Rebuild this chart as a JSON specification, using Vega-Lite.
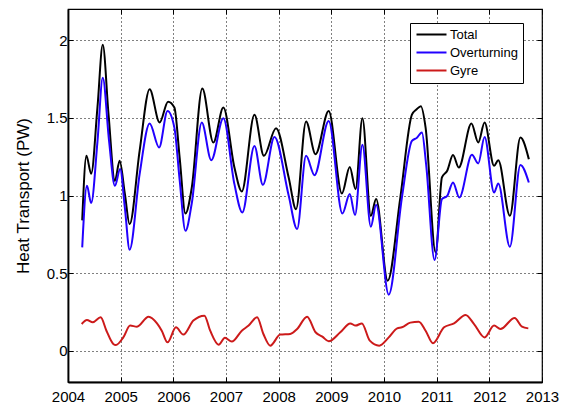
{
  "$schema": "https://vega.github.io/schema/vega-lite/v6.json",
  "width": 474,
  "height": 373,
  "autosize": "none",
  "padding": {"left": 68, "top": 9, "right": 20, "bottom": 25},
  "background": "white",
  "config": {
    "view": {"stroke": "black", "strokeWidth": 1.2},
    "font": "Liberation Sans",
    "axis": {
      "labelFont": "Liberation Sans",
      "titleFont": "Liberation Sans",
      "labelColor": "black",
      "titleColor": "black",
      "labelFontSize": 15,
      "titleFontSize": 17,
      "titleFontWeight": "normal",
      "labelFlush": false,
      "gridColor": "black",
      "gridDash": [1, 3],
      "gridWidth": 1,
      "gridOpacity": 1,
      "domainColor": "black",
      "domainWidth": 1.8,
      "tickColor": "black",
      "tickSize": -5,
      "tickWidth": 1
    }
  },
  "datasets": {
    "series": [
      {"year": 2004.27, "value": 0.84, "series": "Total"},
      {"year": 2004.35, "value": 1.255, "series": "Total"},
      {"year": 2004.44, "value": 1.14, "series": "Total"},
      {"year": 2004.56, "value": 1.57, "series": "Total"},
      {"year": 2004.66, "value": 1.97, "series": "Total"},
      {"year": 2004.77, "value": 1.52, "series": "Total"},
      {"year": 2004.89, "value": 1.094, "series": "Total"},
      {"year": 2004.98, "value": 1.223, "series": "Total"},
      {"year": 2005.08, "value": 1.01, "series": "Total"},
      {"year": 2005.17, "value": 0.816, "series": "Total"},
      {"year": 2005.36, "value": 1.287, "series": "Total"},
      {"year": 2005.55, "value": 1.684, "series": "Total"},
      {"year": 2005.74, "value": 1.47, "series": "Total"},
      {"year": 2005.9, "value": 1.604, "series": "Total"},
      {"year": 2006.02, "value": 1.566, "series": "Total"},
      {"year": 2006.12, "value": 1.244, "series": "Total"},
      {"year": 2006.23, "value": 0.884, "series": "Total"},
      {"year": 2006.35, "value": 1.05, "series": "Total"},
      {"year": 2006.55, "value": 1.688, "series": "Total"},
      {"year": 2006.76, "value": 1.341, "series": "Total"},
      {"year": 2006.95, "value": 1.566, "series": "Total"},
      {"year": 2007.16, "value": 1.18, "series": "Total"},
      {"year": 2007.3, "value": 1.026, "series": "Total"},
      {"year": 2007.54, "value": 1.519, "series": "Total"},
      {"year": 2007.72, "value": 1.255, "series": "Total"},
      {"year": 2007.95, "value": 1.433, "series": "Total"},
      {"year": 2008.19, "value": 1.116, "series": "Total"},
      {"year": 2008.33, "value": 0.912, "series": "Total"},
      {"year": 2008.52, "value": 1.476, "series": "Total"},
      {"year": 2008.7, "value": 1.266, "series": "Total"},
      {"year": 2008.95, "value": 1.544, "series": "Total"},
      {"year": 2009.2, "value": 1.013, "series": "Total"},
      {"year": 2009.35, "value": 1.184, "series": "Total"},
      {"year": 2009.46, "value": 1.041, "series": "Total"},
      {"year": 2009.59, "value": 1.497, "series": "Total"},
      {"year": 2009.75, "value": 0.869, "series": "Total"},
      {"year": 2009.85, "value": 0.977, "series": "Total"},
      {"year": 2010.07, "value": 0.452, "series": "Total"},
      {"year": 2010.31, "value": 0.987, "series": "Total"},
      {"year": 2010.53, "value": 1.52, "series": "Total"},
      {"year": 2010.62, "value": 1.555, "series": "Total"},
      {"year": 2010.7, "value": 1.575, "series": "Total"},
      {"year": 2010.79, "value": 1.437, "series": "Total"},
      {"year": 2010.98, "value": 0.634, "series": "Total"},
      {"year": 2011.1, "value": 1.116, "series": "Total"},
      {"year": 2011.2, "value": 1.159, "series": "Total"},
      {"year": 2011.31, "value": 1.26, "series": "Total"},
      {"year": 2011.42, "value": 1.18, "series": "Total"},
      {"year": 2011.66, "value": 1.463, "series": "Total"},
      {"year": 2011.79, "value": 1.341, "series": "Total"},
      {"year": 2011.91, "value": 1.469, "series": "Total"},
      {"year": 2012.09, "value": 1.191, "series": "Total"},
      {"year": 2012.17, "value": 1.227, "series": "Total"},
      {"year": 2012.39, "value": 0.869, "series": "Total"},
      {"year": 2012.59, "value": 1.373, "series": "Total"},
      {"year": 2012.75, "value": 1.234, "series": "Total"},

      {"year": 2004.27, "value": 0.666, "series": "Overturning"},
      {"year": 2004.36, "value": 1.062, "series": "Overturning"},
      {"year": 2004.44, "value": 0.951, "series": "Overturning"},
      {"year": 2004.56, "value": 1.35, "series": "Overturning"},
      {"year": 2004.66, "value": 1.758, "series": "Overturning"},
      {"year": 2004.78, "value": 1.35, "series": "Overturning"},
      {"year": 2004.89, "value": 1.062, "series": "Overturning"},
      {"year": 2004.99, "value": 1.17, "series": "Overturning"},
      {"year": 2005.08, "value": 0.92, "series": "Overturning"},
      {"year": 2005.17, "value": 0.651, "series": "Overturning"},
      {"year": 2005.36, "value": 1.137, "series": "Overturning"},
      {"year": 2005.55, "value": 1.463, "series": "Overturning"},
      {"year": 2005.73, "value": 1.309, "series": "Overturning"},
      {"year": 2005.89, "value": 1.544, "series": "Overturning"},
      {"year": 2006.02, "value": 1.437, "series": "Overturning"},
      {"year": 2006.12, "value": 1.1, "series": "Overturning"},
      {"year": 2006.23, "value": 0.773, "series": "Overturning"},
      {"year": 2006.35, "value": 0.95, "series": "Overturning"},
      {"year": 2006.54, "value": 1.469, "series": "Overturning"},
      {"year": 2006.72, "value": 1.227, "series": "Overturning"},
      {"year": 2006.95, "value": 1.497, "series": "Overturning"},
      {"year": 2007.16, "value": 1.073, "series": "Overturning"},
      {"year": 2007.31, "value": 0.891, "series": "Overturning"},
      {"year": 2007.54, "value": 1.319, "series": "Overturning"},
      {"year": 2007.7, "value": 1.069, "series": "Overturning"},
      {"year": 2007.92, "value": 1.377, "series": "Overturning"},
      {"year": 2008.19, "value": 1.0, "series": "Overturning"},
      {"year": 2008.35, "value": 0.784, "series": "Overturning"},
      {"year": 2008.52, "value": 1.255, "series": "Overturning"},
      {"year": 2008.68, "value": 1.131, "series": "Overturning"},
      {"year": 2008.95, "value": 1.48, "series": "Overturning"},
      {"year": 2009.21, "value": 0.884, "series": "Overturning"},
      {"year": 2009.35, "value": 1.009, "series": "Overturning"},
      {"year": 2009.45, "value": 0.874, "series": "Overturning"},
      {"year": 2009.59, "value": 1.326, "series": "Overturning"},
      {"year": 2009.75, "value": 0.799, "series": "Overturning"},
      {"year": 2009.85, "value": 0.94, "series": "Overturning"},
      {"year": 2010.09, "value": 0.362, "series": "Overturning"},
      {"year": 2010.34, "value": 0.987, "series": "Overturning"},
      {"year": 2010.53, "value": 1.351, "series": "Overturning"},
      {"year": 2010.62, "value": 1.37, "series": "Overturning"},
      {"year": 2010.72, "value": 1.405, "series": "Overturning"},
      {"year": 2010.8, "value": 1.2, "series": "Overturning"},
      {"year": 2010.96, "value": 0.585, "series": "Overturning"},
      {"year": 2011.1, "value": 0.977, "series": "Overturning"},
      {"year": 2011.2, "value": 0.998, "series": "Overturning"},
      {"year": 2011.31, "value": 1.084, "series": "Overturning"},
      {"year": 2011.43, "value": 0.987, "series": "Overturning"},
      {"year": 2011.67, "value": 1.262, "series": "Overturning"},
      {"year": 2011.79, "value": 1.206, "series": "Overturning"},
      {"year": 2011.91, "value": 1.377, "series": "Overturning"},
      {"year": 2012.09, "value": 1.019, "series": "Overturning"},
      {"year": 2012.17, "value": 1.077, "series": "Overturning"},
      {"year": 2012.39, "value": 0.67, "series": "Overturning"},
      {"year": 2012.59, "value": 1.197, "series": "Overturning"},
      {"year": 2012.75, "value": 1.084, "series": "Overturning"},

      {"year": 2004.26, "value": 0.173, "series": "Gyre"},
      {"year": 2004.36, "value": 0.199, "series": "Gyre"},
      {"year": 2004.47, "value": 0.184, "series": "Gyre"},
      {"year": 2004.62, "value": 0.216, "series": "Gyre"},
      {"year": 2004.73, "value": 0.13, "series": "Gyre"},
      {"year": 2004.86, "value": 0.045, "series": "Gyre"},
      {"year": 2004.91, "value": 0.038, "series": "Gyre"},
      {"year": 2005.05, "value": 0.087, "series": "Gyre"},
      {"year": 2005.18, "value": 0.163, "series": "Gyre"},
      {"year": 2005.31, "value": 0.156, "series": "Gyre"},
      {"year": 2005.53, "value": 0.22, "series": "Gyre"},
      {"year": 2005.69, "value": 0.177, "series": "Gyre"},
      {"year": 2005.78, "value": 0.13, "series": "Gyre"},
      {"year": 2005.89, "value": 0.055, "series": "Gyre"},
      {"year": 2006.05, "value": 0.152, "series": "Gyre"},
      {"year": 2006.19, "value": 0.105, "series": "Gyre"},
      {"year": 2006.38, "value": 0.195, "series": "Gyre"},
      {"year": 2006.59, "value": 0.227, "series": "Gyre"},
      {"year": 2006.7, "value": 0.13, "series": "Gyre"},
      {"year": 2006.86, "value": 0.04, "series": "Gyre"},
      {"year": 2006.98, "value": 0.084, "series": "Gyre"},
      {"year": 2007.11, "value": 0.06, "series": "Gyre"},
      {"year": 2007.3, "value": 0.13, "series": "Gyre"},
      {"year": 2007.43, "value": 0.163, "series": "Gyre"},
      {"year": 2007.59, "value": 0.216, "series": "Gyre"},
      {"year": 2007.71, "value": 0.109, "series": "Gyre"},
      {"year": 2007.84, "value": 0.034, "series": "Gyre"},
      {"year": 2008.03, "value": 0.105, "series": "Gyre"},
      {"year": 2008.22, "value": 0.109, "series": "Gyre"},
      {"year": 2008.35, "value": 0.141, "series": "Gyre"},
      {"year": 2008.54, "value": 0.22, "series": "Gyre"},
      {"year": 2008.7, "value": 0.12, "series": "Gyre"},
      {"year": 2008.83, "value": 0.092, "series": "Gyre"},
      {"year": 2008.95, "value": 0.062, "series": "Gyre"},
      {"year": 2009.17, "value": 0.12, "series": "Gyre"},
      {"year": 2009.36, "value": 0.177, "series": "Gyre"},
      {"year": 2009.46, "value": 0.163, "series": "Gyre"},
      {"year": 2009.58, "value": 0.177, "series": "Gyre"},
      {"year": 2009.73, "value": 0.066, "series": "Gyre"},
      {"year": 2009.91, "value": 0.034, "series": "Gyre"},
      {"year": 2010.09, "value": 0.087, "series": "Gyre"},
      {"year": 2010.25, "value": 0.145, "series": "Gyre"},
      {"year": 2010.34, "value": 0.152, "series": "Gyre"},
      {"year": 2010.5, "value": 0.182, "series": "Gyre"},
      {"year": 2010.66, "value": 0.188, "series": "Gyre"},
      {"year": 2010.79, "value": 0.13, "series": "Gyre"},
      {"year": 2010.93, "value": 0.049, "series": "Gyre"},
      {"year": 2011.14, "value": 0.152, "series": "Gyre"},
      {"year": 2011.33, "value": 0.177, "series": "Gyre"},
      {"year": 2011.55, "value": 0.231, "series": "Gyre"},
      {"year": 2011.71, "value": 0.173, "series": "Gyre"},
      {"year": 2011.91, "value": 0.087, "series": "Gyre"},
      {"year": 2012.09, "value": 0.163, "series": "Gyre"},
      {"year": 2012.21, "value": 0.141, "series": "Gyre"},
      {"year": 2012.48, "value": 0.212, "series": "Gyre"},
      {"year": 2012.62, "value": 0.156, "series": "Gyre"},
      {"year": 2012.74, "value": 0.145, "series": "Gyre"}
    ]
  },
  "data": {"name": "series"},
  "layer": [
    {
      "mark": {"type": "line", "interpolate": "monotone", "strokeWidth": 2},
      "encoding": {
        "x": {"field": "year", "type": "quantitative", "scale": {"domain": [2004, 2013], "nice": false, "zero": false},
              "axis": {"orient": "bottom", "title": null, "grid": true, "labelFlush": false, "labelExpr": "datum.value", "labelPadding": 12, "values": [2004,2005,2006,2007,2008,2009,2010,2011,2012,2013]}},
        "y": {"field": "value", "type": "quantitative", "scale": {"domain": [-0.2, 2.2], "nice": false, "zero": false},
              "axis": {"orient": "left", "title": "Heat Transport (PW)", "grid": true, "labelFlush": false, "labelExpr": "datum.value", "titlePadding": 14, "labelPadding": 6, "values": [0, 0.5, 1, 1.5, 2]}},
        "color": {
          "field": "series", "type": "nominal",
          "scale": {"domain": ["Total", "Overturning", "Gyre"], "range": ["#000000", "#2200ff", "#cc1a1a"]},
          "legend": {
            "title": null, "orient": "none", "legendX": 342, "legendY": 14,
            "symbolType": "M-1,0H5", "symbolSize": 100, "symbolStrokeWidth": 2, "labelOffset": 22,
            "labelFont": "Liberation Sans", "labelFontSize": 13, "labelColor": "black",
            "strokeColor": "black", "fillColor": "white", "padding": 5, "rowPadding": 4
          }
        },
        "order": {"field": "year", "type": "quantitative"}
      }
    },
    {
      "mark": {"type": "line", "opacity": 0},
      "encoding": {
        "x": {"field": "year", "type": "quantitative", "scale": {"domain": [2004, 2013], "nice": false, "zero": false},
              "axis": {"orient": "top", "title": null, "labels": false, "grid": false, "domain": false, "values": [2004,2005,2006,2007,2008,2009,2010,2011,2012,2013]}},
        "y": {"field": "value", "type": "quantitative", "scale": {"domain": [-0.2, 2.2], "nice": false, "zero": false},
              "axis": {"orient": "right", "title": null, "labels": false, "grid": false, "domain": false, "values": [0, 0.5, 1, 1.5, 2]}},
        "detail": {"field": "series"}
      }
    }
  ],
  "resolve": {"axis": {"x": "independent", "y": "independent"}}
}
